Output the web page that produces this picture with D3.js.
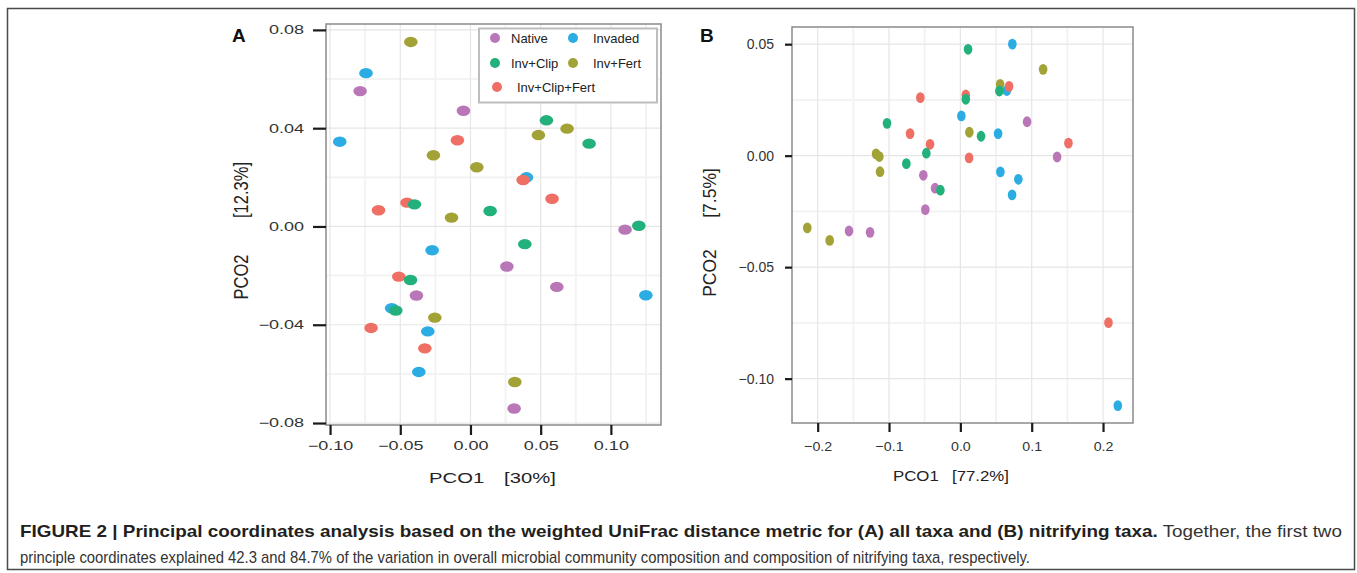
<!DOCTYPE html>
<html><head><meta charset="utf-8">
<script src="https://cdn.jsdelivr.net/npm/d3@7"></script>
<style>
html,body{margin:0;padding:0;background:#fff;}
svg{display:block;font-family:"Liberation Sans",Arial,sans-serif;}
</style></head>
<body><svg id="chart" width="1357" height="573"></svg>
<script>
// ---------------- DATA ----------------
const groups = ["Native", "Invaded", "Inv+Clip", "Inv+Fert", "Inv+Clip+Fert"];
const groupColors = ["#B977B8", "#2BACE2", "#22B07B", "#A2A236", "#EF6F65"];
const drawOrder = ["Invaded", "Native", "Inv+Fert", "Inv+Clip+Fert", "Inv+Clip"];

// Panel A: all taxa, [PCO1, PCO2]
const A_Native = [[-0.0786,0.0551],[-0.0050,0.0471],[0.1101,-0.0013],[0.0259,-0.0163],[0.0615,-0.0246],[-0.0385,-0.0281],[0.0311,-0.0741]];
const A_Invaded = [[-0.0744,0.0624],[-0.0931,0.0345],[0.0399,0.0200],[-0.0273,-0.0097],[0.1249,-0.0280],[-0.0561,-0.0333],[-0.0304,-0.0427],[-0.0368,-0.0592]];
const A_InvClip = [[0.0541,0.0432],[0.0845,0.0337],[-0.0399,0.0090],[0.0140,0.0063],[0.1199,0.0003],[0.0387,-0.0072],[-0.0427,-0.0218],[-0.0532,-0.0342]];
const A_InvFert = [[-0.0425,0.0751],[0.0688,0.0398],[0.0484,0.0372],[-0.0264,0.0290],[0.0045,0.0241],[-0.0135,0.0036],[-0.0254,-0.0371],[0.0316,-0.0633]];
const A_InvClipFert = [[-0.0093,0.0351],[0.0375,0.0189],[0.0581,0.0113],[-0.0452,0.0097],[-0.0655,0.0066],[-0.0511,-0.0204],[-0.0708,-0.0413],[-0.0325,-0.0496]];

// Panel B: nitrifying taxa, [PCO1, PCO2]
const B_Native = [[0.0935,0.0152],[0.1356,-0.0006],[-0.0519,-0.0088],[-0.0355,-0.0146],[-0.0491,-0.0242],[-0.1561,-0.0338],[-0.1266,-0.0344]];
const B_Invaded = [[0.0729,0.0500],[0.0651,0.0292],[0.0014,0.0178],[0.0529,0.0099],[0.0561,-0.0073],[0.0813,-0.0106],[0.0725,-0.0176],[0.2207,-0.1121]];
const B_InvClip = [[0.0108,0.0477],[0.0547,0.0290],[0.0076,0.0253],[-0.1028,0.0145],[0.0290,0.0087],[-0.0477,0.0011],[-0.0757,-0.0036],[-0.0280,-0.0155]];
const B_InvFert = [[0.1160,0.0387],[0.0557,0.0320],[0.0126,0.0105],[-0.1182,0.0008],[-0.1136,-0.0004],[-0.1126,-0.0072],[-0.2146,-0.0324],[-0.1832,-0.0380]];
const B_InvClipFert = [[0.0683,0.0311],[-0.0561,0.0260],[0.0076,0.0272],[-0.0705,0.0099],[-0.0425,0.0051],[0.1515,0.0056],[0.0122,-0.0010],[0.2076,-0.0749]];

// Ticks
const A_xTicks = [-0.10, -0.05, 0.00, 0.05, 0.10];
const A_yTicks = [-0.08, -0.04, 0.00, 0.04, 0.08];
const A_xMinor = [-0.075, -0.025, 0.025, 0.075, 0.125];
const A_yMinor = [-0.06, -0.02, 0.02, 0.06];
const B_xTicks = [-0.2, -0.1, 0.0, 0.1, 0.2];
const B_yTicks = [-0.10, -0.05, 0.00, 0.05];
const B_xMinor = [-0.15, -0.05, 0.05, 0.15];
const B_yMinor = [-0.075, -0.025, 0.025];

const captionBold = "FIGURE 2 | Principal coordinates analysis based on the weighted UniFrac distance metric for (A) all taxa and (B) nitrifying taxa.";
const captionRest1 = " Together, the first two";
const captionLine2 = "principle coordinates explained 42.3 and 84.7% of the variation in overall microbial community composition and composition of nitrifying taxa, respectively.";

// ---------------- DRAW ----------------
const svg = d3.select("#chart");
const color = d3.scaleOrdinal().domain(groups).range(groupColors);

function stretch(sel, f) {
  sel.each(function () {
    const L = this.getComputedTextLength();
    this.setAttribute("textLength", L * f);
    this.setAttribute("lengthAdjust", "spacingAndGlyphs");
  });
}

// outer frame
svg.append("rect").attr("x", 7.5).attr("y", 8.5).attr("width", 1347).attr("height", 561)
  .attr("fill", "none").attr("stroke", "#4a4a4a").attr("stroke-width", 1.5);

function panel(cfg) {
  const g = svg.append("g");
  const x = d3.scaleLinear().domain(cfg.xDomain).range([cfg.left, cfg.right]);
  const y = d3.scaleLinear().domain(cfg.yDomain).range([cfg.bottom, cfg.top]);
  g.append("rect").attr("x", cfg.left).attr("y", cfg.top)
    .attr("width", cfg.right - cfg.left).attr("height", cfg.bottom - cfg.top).attr("fill", "#fff");
  // minor grid
  g.selectAll(".mx").data(cfg.xMinor).join("line")
    .attr("x1", d => x(d)).attr("x2", d => x(d)).attr("y1", cfg.top).attr("y2", cfg.bottom)
    .attr("stroke", "#f3f3f3").attr("stroke-width", 2);
  g.selectAll(".my").data(cfg.yMinor).join("line")
    .attr("y1", d => y(d)).attr("y2", d => y(d)).attr("x1", cfg.left).attr("x2", cfg.right)
    .attr("stroke", "#f3f3f3").attr("stroke-width", 2);
  // major grid
  g.selectAll(".gx").data(cfg.xTicks).join("line")
    .attr("x1", d => x(d)).attr("x2", d => x(d)).attr("y1", cfg.top).attr("y2", cfg.bottom)
    .attr("stroke", "#e6e6e6").attr("stroke-width", 1.2);
  g.selectAll(".gy").data(cfg.yTicks).join("line")
    .attr("y1", d => y(d)).attr("y2", d => y(d)).attr("x1", cfg.left).attr("x2", cfg.right)
    .attr("stroke", "#e6e6e6").attr("stroke-width", 1.2);
  // points
  cfg.order.forEach(name => {
    const pts = cfg.series[name];
    g.append("g").selectAll("ellipse").data(pts).join("ellipse")
      .attr("cx", d => x(d[0])).attr("cy", d => y(d[1]))
      .attr("rx", cfg.rx).attr("ry", cfg.ry).attr("fill", color(name));
  });
  // border
  g.append("rect").attr("x", cfg.left).attr("y", cfg.top)
    .attr("width", cfg.right - cfg.left).attr("height", cfg.bottom - cfg.top)
    .attr("fill", "none").attr("stroke", "#8a8a8a").attr("stroke-width", 1.5);
  // axes
  const xa = g.append("g").attr("transform", `translate(0,${cfg.bottom})`)
    .call(d3.axisBottom(x).tickValues(cfg.xTicks).tickFormat(d3.format(cfg.xFmt))
      .tickSize(cfg.xTickLen).tickPadding(cfg.xPad));
  const ya = g.append("g").attr("transform", `translate(${cfg.left},0)`)
    .call(d3.axisLeft(y).tickValues(cfg.yTicks).tickFormat(d3.format(cfg.yFmt))
      .tickSize(cfg.yTickLen).tickPadding(cfg.yPad));
  [xa, ya].forEach(a => {
    a.select(".domain").remove();
    a.selectAll(".tick line").attr("stroke", "#1a1a1a").attr("stroke-width", 2.2);
  });
  xa.selectAll(".tick text").attr("font-size", cfg.xFont).attr("fill", "#333")
    .attr("font-family", "Liberation Sans, Arial, sans-serif");
  ya.selectAll(".tick text").attr("font-size", cfg.yFont).attr("fill", "#333")
    .attr("font-family", "Liberation Sans, Arial, sans-serif");
  stretch(xa.selectAll(".tick text"), cfg.xStretch);
  stretch(ya.selectAll(".tick text"), cfg.yStretch);
  return {g, x, y};
}

// Panel A
panel({
  left: 326, right: 661, top: 24, bottom: 425,
  xDomain: [-0.1029, 0.1357], yDomain: [-0.0808, 0.0824],
  xTicks: A_xTicks, yTicks: A_yTicks, xMinor: A_xMinor, yMinor: A_yMinor,
  xFmt: ".2f", yFmt: ".2f", xTickLen: 10, yTickLen: 13, xPad: 6, yPad: 9,
  xFont: 12, yFont: 12, xStretch: 1.5, yStretch: 1.5,
  rx: 6.8, ry: 5.2,
  order: drawOrder,
  series: {"Native": A_Native, "Invaded": A_Invaded, "Inv+Clip": A_InvClip, "Inv+Fert": A_InvFert, "Inv+Clip+Fert": A_InvClipFert}
});

// Panel B
panel({
  left: 792, right: 1133, top: 27, bottom: 423,
  xDomain: [-0.236, 0.242], yDomain: [-0.1199, 0.0577],
  xTicks: B_xTicks, yTicks: B_yTicks, xMinor: B_xMinor, yMinor: B_yMinor,
  xFmt: ".1f", yFmt: ".2f", xTickLen: 9, yTickLen: 7, xPad: 9, yPad: 11,
  xFont: 13.5, yFont: 14, xStretch: 1.05, yStretch: 1.0,
  rx: 4.3, ry: 5.4,
  order: drawOrder,
  series: {"Native": B_Native, "Invaded": B_Invaded, "Inv+Clip": B_InvClip, "Inv+Fert": B_InvFert, "Inv+Clip+Fert": B_InvClipFert}
});

// Axis titles
function title(txt, xPos, yPos, size, f, anchor) {
  const t = svg.append("text").attr("x", xPos).attr("y", yPos).attr("font-size", size)
    .attr("fill", "#222").attr("text-anchor", anchor || "start").text(txt);
  stretch(t, f);
  return t;
}
title("PCO1", 429, 482.5, 15, 1.35);
title("[30%]", 504, 482.5, 15, 1.35);
title("PCO1", 893, 480.5, 15, 1.12);
title("[77.2%]", 952, 480.5, 15, 1.12);

function vtitle(txt, bx, cy, size, sx) {
  svg.append("text").attr("transform", `translate(${bx},${cy}) scale(${sx},1) rotate(-90)`)
    .attr("text-anchor", "middle").attr("font-size", size).attr("fill", "#222").text(txt);
}
vtitle("PCO2", 248, 277, 16.5, 1.2);
vtitle("[12.3%]", 248, 190, 16.5, 1.2);
vtitle("PCO2", 716, 273, 17.5, 1.0);
vtitle("[7.5%]", 716, 193, 17.5, 1.0);

// Panel letters
svg.append("text").attr("x", 232).attr("y", 42).attr("font-size", 19).attr("font-weight", "bold").attr("fill", "#111").text("A");
svg.append("text").attr("x", 700).attr("y", 42).attr("font-size", 19).attr("font-weight", "bold").attr("fill", "#111").text("B");

// Legend (panel A)
const leg = svg.append("g");
leg.append("rect").attr("x", 479).attr("y", 28.5).attr("width", 178).attr("height", 74)
  .attr("fill", "#fff").attr("stroke", "#bdbdbd").attr("stroke-width", 2);
const legItems = [
  {name: "Native", cx: 495, cy: 38, tx: 511},
  {name: "Invaded", cx: 573, cy: 38, tx: 593},
  {name: "Inv+Clip", cx: 495, cy: 63, tx: 511},
  {name: "Inv+Fert", cx: 573, cy: 63, tx: 593},
  {name: "Inv+Clip+Fert", cx: 497, cy: 87, tx: 517}
];
legItems.forEach(d => {
  leg.append("circle").attr("cx", d.cx).attr("cy", d.cy).attr("r", 5).attr("fill", color(d.name));
  leg.append("text").attr("x", d.tx).attr("y", d.cy + 4.6).attr("font-size", 13).attr("fill", "#222").text(d.name);
});

// Caption
const c1 = svg.append("text").attr("x", 20).attr("y", 537).attr("font-size", 17)
  .attr("font-family", "Liberation Sans Narrow, Liberation Sans, Arial, sans-serif").attr("fill", "#231f20");
c1.append("tspan").attr("font-weight", "bold").text(captionBold);
c1.append("tspan").attr("fill", "#333").text(captionRest1);
c1.attr("textLength", 1322).attr("lengthAdjust", "spacingAndGlyphs");
const c2 = svg.append("text").attr("x", 20).attr("y", 563).attr("font-size", 17)
  .attr("font-family", "Liberation Sans Narrow, Liberation Sans, Arial, sans-serif").attr("fill", "#333")
  .text(captionLine2);
c2.attr("textLength", 1010).attr("lengthAdjust", "spacingAndGlyphs");
</script>
</body></html>
